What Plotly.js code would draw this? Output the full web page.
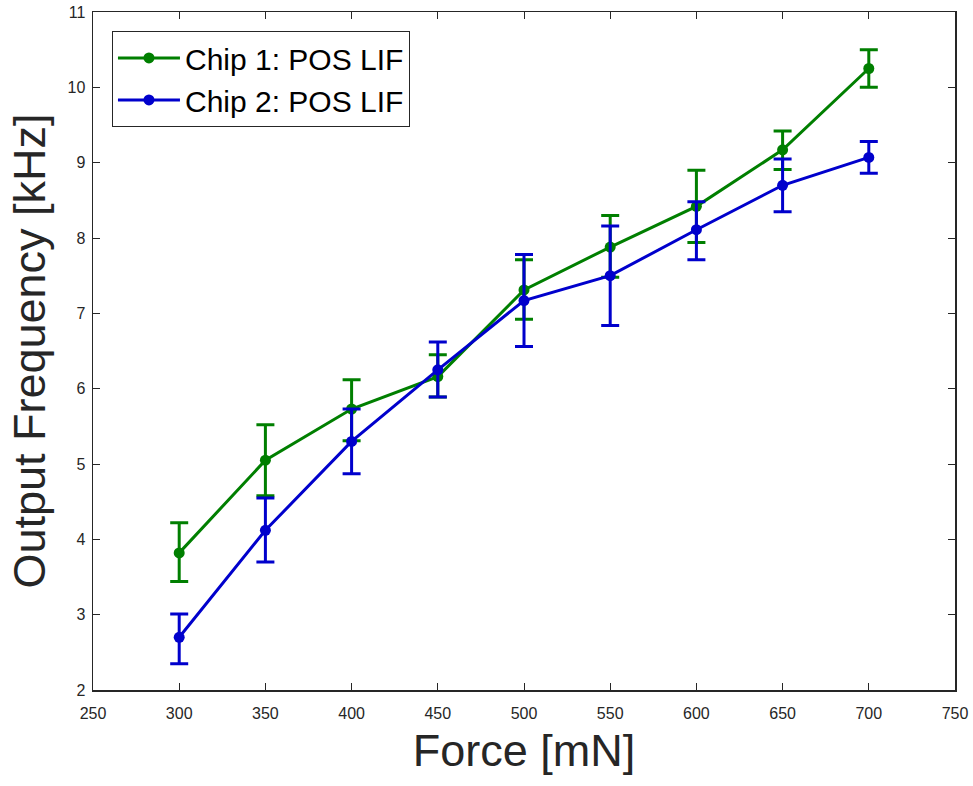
<!DOCTYPE html>
<html>
<head>
<meta charset="utf-8">
<script src="https://cdn.plot.ly/plotly-3.0.1.min.js"></script>
<style>html,body{margin:0;padding:0;background:#fff;}#chart{width:973px;height:786px;}</style>
</head>
<body>
<div id="chart"></div>
<script>
const force = [300, 350, 400, 450, 500, 550, 600, 650, 700];

const chip1Name = "Chip 1: POS LIF";
const chip1Freq = [3.82, 5.05, 5.73, 6.16, 7.31, 7.88, 8.42, 9.17, 10.25];
const chip1ErrUp = [0.40, 0.47, 0.39, 0.29, 0.40, 0.42, 0.48, 0.25, 0.25];
const chip1ErrDown = [0.38, 0.47, 0.42, 0.27, 0.39, 0.40, 0.48, 0.26, 0.25];

const chip2Name = "Chip 2: POS LIF";
const chip2Freq = [2.70, 4.12, 5.30, 6.25, 7.17, 7.50, 8.11, 8.70, 9.07];
const chip2ErrUp = [0.31, 0.43, 0.43, 0.37, 0.61, 0.66, 0.37, 0.35, 0.21];
const chip2ErrDown = [0.35, 0.42, 0.43, 0.36, 0.61, 0.66, 0.40, 0.35, 0.21];

const xTicks = [250, 300, 350, 400, 450, 500, 550, 600, 650, 700, 750];
const yTicks = [2, 3, 4, 5, 6, 7, 8, 9, 10, 11];

const green = "#007F00";
const blue = "#0000CC";

function series(name, y, up, down, color) {
  return {
    x: force, y: y, name: name, type: "scatter", mode: "lines+markers",
    line: {color: color, width: 3},
    marker: {color: color, size: 11, symbol: "circle"},
    error_y: {type: "data", symmetric: false, array: up, arrayminus: down,
              color: color, thickness: 3, width: 9, visible: true}
  };
}

const data = [
  series(chip1Name, chip1Freq, chip1ErrUp, chip1ErrDown, green),
  series(chip2Name, chip2Freq, chip2ErrUp, chip2ErrDown, blue)
];

const axisCommon = {
  showline: true, linecolor: "#262626", linewidth: 1.5, mirror: "allticks",
  ticks: "inside", ticklen: 7, tickwidth: 1, tickcolor: "#262626",
  showgrid: false, zeroline: false,
  tickfont: {family: "Liberation Sans, Arial, sans-serif", size: 16, color: "#262626"}
};

const layout = {
  width: 973, height: 786,
  margin: {l: 93, r: 18, t: 12, b: 96},
  paper_bgcolor: "#ffffff", plot_bgcolor: "#ffffff",
  showlegend: true,
  legend: {
    x: 0.022, y: 0.972, xanchor: "left", yanchor: "top",
    bgcolor: "#ffffff", bordercolor: "#262626", borderwidth: 1,
    font: {family: "Liberation Sans, Arial, sans-serif", size: 30, color: "#000000"},
    tracegroupgap: 0, itemwidth: 62
  },
  xaxis: Object.assign({}, axisCommon, {
    range: [250, 750], tickvals: xTicks, ticktext: xTicks.map(String),
    ticklabelstandoff: 8,
    title: {text: "Force [mN]", standoff: 14,
            font: {family: "Liberation Sans, Arial, sans-serif", size: 45, color: "#262626"}}
  }),
  yaxis: Object.assign({}, axisCommon, {
    range: [2, 11], tickvals: yTicks, ticktext: yTicks.map(String),
    ticklabelstandoff: 3,
    title: {text: "Output Frequency [kHz]", standoff: 8,
            font: {family: "Liberation Sans, Arial, sans-serif", size: 45, color: "#262626"}}
  })
};

Plotly.newPlot("chart", data, layout, {displayModeBar: false, staticPlot: true});
</script>
</body>
</html>
